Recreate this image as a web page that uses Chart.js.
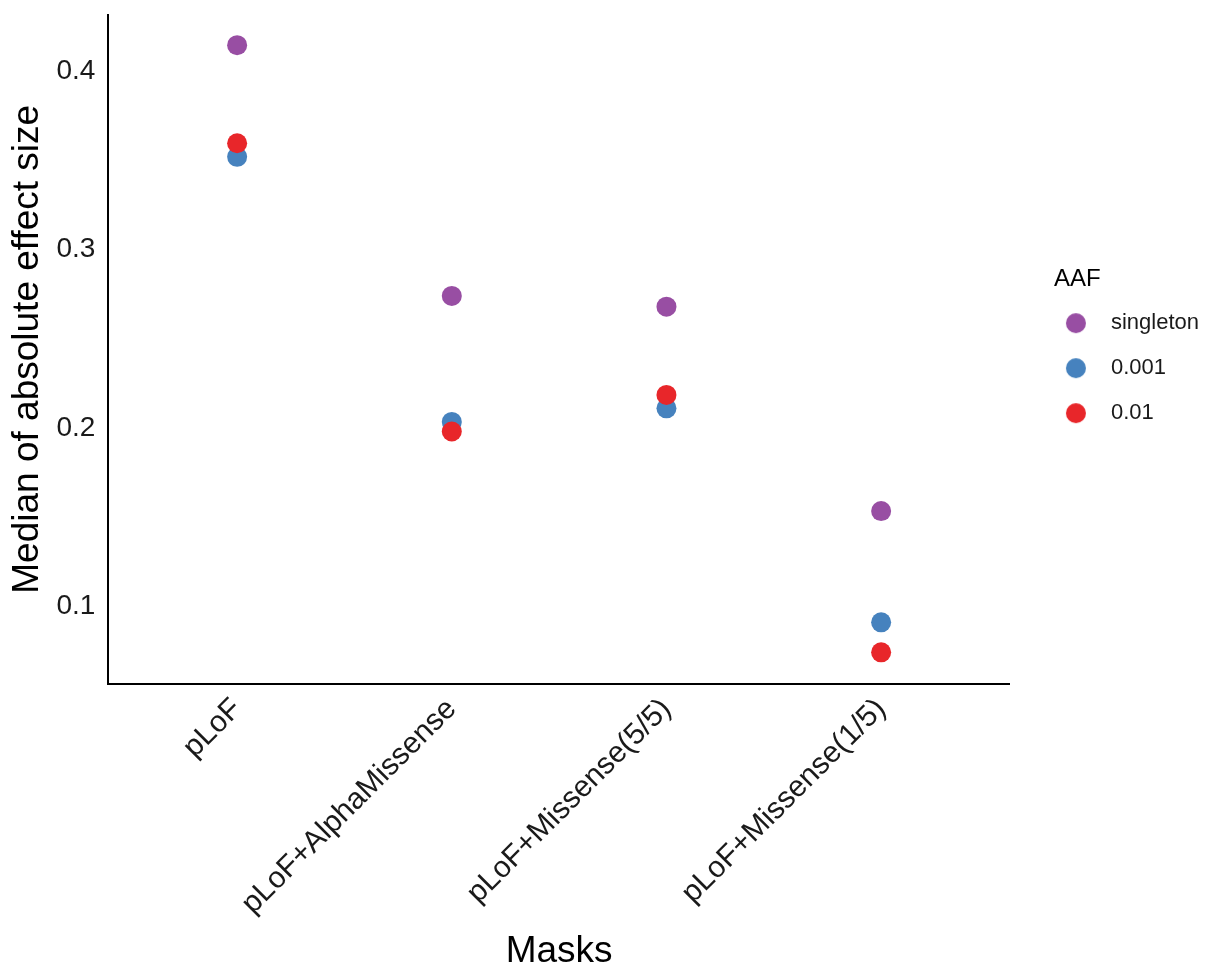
<!DOCTYPE html>
<html lang="en">
  <head>
    <meta charset="UTF-8" />
    <title>Median of absolute effect size by mask</title>
    <script src="https://cdn.jsdelivr.net/npm/chart.js"></script>
    <style>
      * {
        box-sizing: border-box;
        padding: 0;
        margin: 0;
      }
      body {
        background: #fff;
      }
      .wrap {
        width: 1225px;
        height: 972px;
      }
    </style>
  </head>
  <body>
    <div class="wrap">
      <canvas id="myChart" width="1225" height="972"></canvas>
    </div>
  </body>
  <script>
    // data
    const masks = [
      "pLoF",
      "pLoF+AlphaMissense",
      "pLoF+Missense(5/5)",
      "pLoF+Missense(1/5)",
    ];
    const aafLabels = ["singleton", "0.001", "0.01"];
    const singleton = [0.4146, 0.274, 0.268, 0.1534];
    const aaf001 = [0.352, 0.2034, 0.211, 0.091];
    const aaf01 = [0.3596, 0.198, 0.2185, 0.0742];
    const yTicks = [0.1, 0.2, 0.3, 0.4];

    const colors = ["#984EA3", "#4682BE", "#E8262A"];
    const series = [singleton, aaf001, aaf01];

    const font = "'Liberation Sans', Arial, sans-serif";

    // legend dots: the dot sits at the left of a wider image so the
    // key lines up like the ggplot one (dot close to the title, text further out)
    function legendDot(color) {
      const c = document.createElement("canvas");
      c.width = 47;
      c.height = 24;
      const g = c.getContext("2d");
      g.fillStyle = color;
      g.beginPath();
      g.arc(11, 12, 10, 0, Math.PI * 2);
      g.fill();
      return c;
    }
    const legendDots = colors.map(legendDot);

    const datasets = series.map((vals, i) => ({
      label: aafLabels[i],
      data: vals.map((v, j) => ({ x: j, y: v })),
      backgroundColor: colors[i],
      borderColor: colors[i],
      pointRadius: 10,
      pointHoverRadius: 10,
      borderWidth: 0,
      showLine: false,
      order: 3 - i, // later series drawn on top
    }));

    const ctx = document.getElementById("myChart").getContext("2d");
    const myChart = new Chart(ctx, {
      type: "scatter",
      data: { datasets },
      options: {
        responsive: false,
        animation: false,
        layout: {
          padding: { top: 15, left: 0, right: 16, bottom: 0 },
        },
        plugins: {
          tooltip: { enabled: false },
          legend: {
            position: "right",
            align: "center",
            fullSize: false,
            title: {
              display: true,
              text: "AAF",
              position: "start",
              color: "#000",
              font: { family: font, size: 24 },
              padding: { top: 16, bottom: -7 },
            },
            labels: {
              usePointStyle: true,
              pointStyleWidth: 23,
              boxHeight: 14,
              padding: 23,
              color: "#1a1a1a",
              font: { family: font, size: 22 },
              sort: (a, b) => a.datasetIndex - b.datasetIndex,
              generateLabels: (chart) => {
                const items =
                  Chart.defaults.plugins.legend.labels.generateLabels(chart);
                items.forEach((it) => {
                  it.pointStyle = legendDots[it.datasetIndex];
                });
                return items;
              },
            },
          },
        },
        scales: {
          x: {
            type: "linear",
            min: -0.6,
            max: 3.6,
            afterBuildTicks: (axis) => {
              axis.ticks = masks.map((m, i) => ({ value: i }));
            },
            grid: { display: false, drawTicks: false },
            border: { color: "#000", width: 2 },
            ticks: {
              minRotation: 45,
              maxRotation: 45,
              padding: 8,
              color: "#1a1a1a",
              font: { family: font, size: 30 },
              callback: (v) => masks[v],
            },
            title: {
              display: true,
              text: "Masks",
              color: "#000",
              font: { family: font, size: 37 },
              padding: { top: 0, bottom: -2 },
            },
          },
          y: {
            min: 0.0567,
            max: 0.4315,
            afterBuildTicks: (axis) => {
              axis.ticks = yTicks.map((v) => ({ value: v }));
            },
            grid: { display: false, drawTicks: false },
            border: { color: "#000", width: 2 },
            ticks: {
              padding: 13,
              color: "#1a1a1a",
              font: { family: font, size: 28, lineHeight: 0.1 },
              callback: (v) => v.toFixed(1),
            },
            title: {
              display: true,
              text: "Median of absolute effect size",
              color: "#000",
              font: { family: font, size: 37 },
              padding: { top: 6, bottom: -7 },
            },
          },
          // empty spacer between the panel and the legend
          gap: {
            type: "linear",
            position: "right",
            grid: { display: false, drawTicks: false },
            border: { display: false },
            ticks: { display: false },
            afterFit: (s) => {
              s.width = 44;
            },
          },
        },
      },
    });
  </script>
</html>
